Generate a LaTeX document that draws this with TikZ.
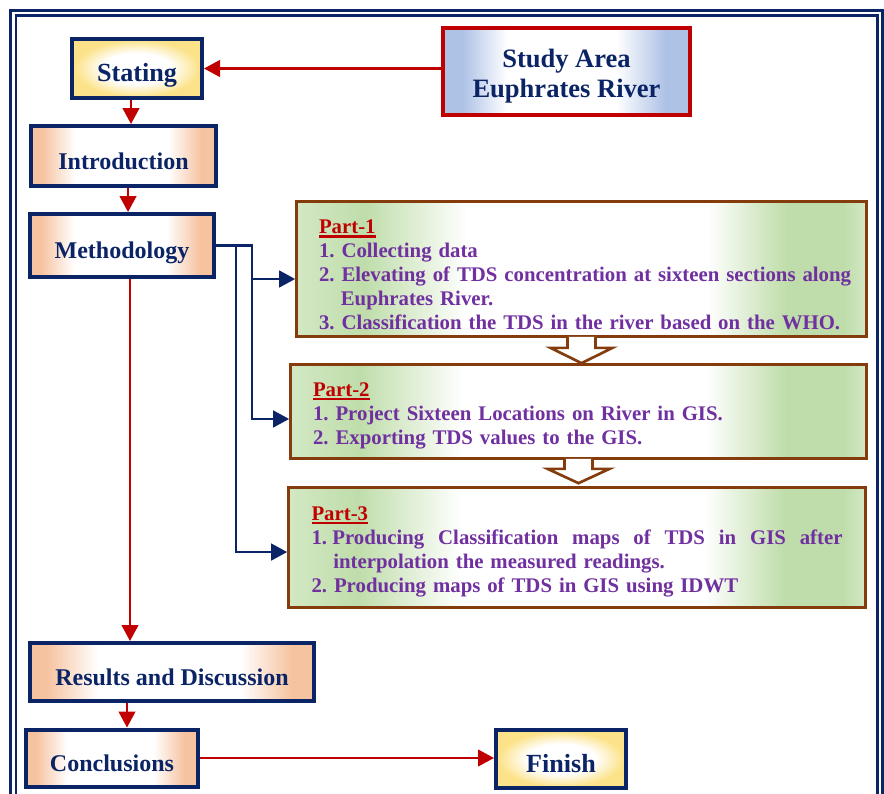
\documentclass[tikz,border=0pt]{standalone}
\usepackage{fontspec}
\setmainfont{Liberation Serif}
\usetikzlibrary{arrows.meta,calc}
\frenchspacing

\definecolor{navyline}{HTML}{0B2466}
\definecolor{arrowred}{HTML}{C00000}
\definecolor{boxbrown}{HTML}{843C0C}
\definecolor{itempurple}{HTML}{7030A0}
\definecolor{peach}{HTML}{F6C3A0}
\definecolor{paleyellow}{HTML}{FCE38A}
\definecolor{paleblue}{HTML}{AEC2E6}
\definecolor{palegreen}{HTML}{BFDDAA}
\definecolor{lightgreen}{HTML}{D3E8C4}

\pgfdeclarehorizontalshading{peachshade}{100bp}{color(0bp)=(peach); color(28bp)=(peach); color(37bp)=(white); color(62bp)=(white); color(71bp)=(peach); color(100bp)=(peach)}
\pgfdeclareradialshading{yellowshade}{\pgfpoint{0bp}{0bp}}{color(0bp)=(white); color(13bp)=(white); color(24bp)=(paleyellow); color(50bp)=(paleyellow)}
\pgfdeclarehorizontalshading{blueshade}{100bp}{color(0bp)=(paleblue); color(29bp)=(paleblue); color(38bp)=(white); color(60bp)=(white); color(70bp)=(paleblue); color(100bp)=(paleblue)}
\pgfdeclarehorizontalshading{greenshade}{100bp}{color(0bp)=(lightgreen); color(25bp)=(lightgreen); color(31bp)=(palegreen); color(40bp)=(white); color(61bp)=(white); color(68bp)=(palegreen); color(73bp)=(palegreen); color(75bp)=(lightgreen); color(100bp)=(lightgreen)}

\newcommand\partul[1]{\textcolor{arrowred}{\setbox0\hbox{#1}\rlap{\rule[-3pt]{\wd0}{1.8pt}}\box0}}
\newcommand\lowline[1]{\raisebox{-3.4pt}[\height][\depth]{#1}}

\tikzset{
  navybox/.style={draw=navyline, line width=3pt, shade, shading=peachshade, text=navyline, text height=20pt, text depth=0pt, font=\fontsize{18}{20}\selectfont\bfseries},
  yellowbox/.style={navybox, shading=yellowshade, font=\fontsize{19.6}{22}\selectfont\bfseries},
  studybox/.style={draw=arrowred, line width=3.6pt, shade, shading=blueshade, text=navyline, align=center, font=\fontsize{19.9}{22.5}\selectfont\bfseries},
  partbox/.style={draw=boxbrown, line width=2pt, shade, shading=greenshade, text=itempurple, align=left, inner xsep=0pt, font=\fontsize{15.6}{18}\selectfont\bfseries},
  redarrow/.style={draw=arrowred, line width=1.7pt, -{Triangle[length=12pt,width=12.5pt]}},
  navyarrow/.style={draw=navyline, line width=1.8pt, -{Triangle[length=12pt,width=12.5pt]}},
  hollowarrow/.style={draw=boxbrown, line width=2pt, fill=white, line join=miter},
  frameline/.style={draw=navyline, line width=1.9pt}
}

\begin{document}
\begin{tikzpicture}[x=0.75pt,y=0.75pt,yscale=-1,xscale=1]
\useasboundingbox (0,0) rectangle (884,793);
\clip (0,0) rectangle (884,793);

%Shape: Double Frame
\draw[frameline] (10.5,800) -- (10.5,10.5) -- (882.5,10.5) -- (882.5,800) ;
\draw[frameline] (16,800) -- (16,15.5) -- (877.5,15.5) -- (877.5,800) ;

%Shape: Rectangle
\node[yellowbox, minimum width=97.5pt, minimum height=44.25pt] (stating) at (137,68.5) {Stating};
%Shape: Rectangle
\node[studybox, minimum width=185.25pt, minimum height=65.25pt] (study) at (566.5,71.5) {\lowline{Study Area}\\\lowline{Euphrates River}};
%Shape: Rectangle
\node[navybox, minimum width=138.75pt, minimum height=45pt] (intro) at (123.5,156) {Introduction};
%Shape: Rectangle
\node[navybox, minimum width=138pt, minimum height=47.25pt] (meth) at (122,245.5) {Methodology};
%Shape: Rectangle
\node[navybox, minimum width=213pt, minimum height=43.5pt] (results) at (172,672) {Results and Discussion};
%Shape: Rectangle
\node[navybox, minimum width=129pt, minimum height=42.75pt] (conclusions) at (112,758) {Conclusions};
%Shape: Rectangle
\node[yellowbox, minimum width=97.5pt, minimum height=43.5pt] (finish) at (561,759) {Finish};

% Text Node
\node[partbox, text width=393.75pt, minimum width=427.5pt, minimum height=101.25pt] (part1) at (581.5,269) {\rule{0pt}{19.5pt}\partul{Part-1}\\
1. Collecting data\\
\mbox{2. Elevating of TDS concentration at sixteen sections along}\\
\hspace*{1.05em}Euphrates River.\\
3. Classification the TDS in the river based on the WHO.};
% Text Node
\node[partbox, text width=398.25pt, minimum width=432pt, minimum height=70.5pt] (part2) at (578.5,411.5) {\rule{0pt}{16.5pt}\partul{Part-2}\\
1. Project Sixteen Locations on River in GIS.\\
2. Exporting TDS values to the GIS.};
% Text Node
\node[partbox, text width=398.25pt, minimum width=432.75pt, minimum height=90pt] (part3) at (577,547.5) {\rule{0pt}{16.5pt}\partul{Part-3}\\
\makebox[398.25pt][s]{1.\hspace{0.25em}Producing\hfill Classification\hfill maps\hfill of\hfill TDS\hfill in\hfill GIS\hfill after}\\
\hspace*{1.05em}interpolation the measured readings.\\
2. Producing maps of TDS in GIS using IDWT};

%Shape: Hollow Arrows
\draw[hollowarrow] ($(part1.south)+(-14,-1)$) -- ++(0,11) -- ++(-17,0) -- (part1.south |- part2.north) -- ($(part1.south)+(31,10)$) -- ++(-17,0) -- ++(0,-11) ;
\draw[hollowarrow] ($(part2.south)+(-14,-1)$) -- ++(0,10) -- ++(-17,0) -- ($(part2.south |- part3.north)+(0,-3)$) -- ($(part2.south)+(31,9)$) -- ++(-17,0) -- ++(0,-10) ;

%Straight Lines
\draw[redarrow] (stating.east -| study.west) -- (stating.east) ;
\draw[redarrow] ([xshift=-4.5pt]stating.south) -- ([xshift=-4.5pt]stating.south |- intro.north) ;
\draw[redarrow] ([xshift=3.4pt]intro.south) -- ([xshift=3.4pt]intro.south |- meth.north) ;
\draw[redarrow] ([xshift=6pt]meth.south) -- ([xshift=6pt]meth.south |- results.north) ;
\draw[redarrow] ([xshift=11.25pt]conclusions.north |- results.south) -- ([xshift=11.25pt]conclusions.north) ;
\draw[redarrow] (conclusions.east) -- (conclusions.east -| finish.west) ;

%Straight Lines
\draw[navyarrow] (meth.east) -- ++(36,0) |- ([yshift=7.5pt]part1.west) ;
\draw[navyarrow] (meth.east) -- ++(36,0) |- ([yshift=5.6pt]part2.west) ;
\draw[navyarrow] (meth.east) -- ++(20,0) |- ([yshift=3.4pt]part3.west) ;
\end{tikzpicture}
\end{document}
